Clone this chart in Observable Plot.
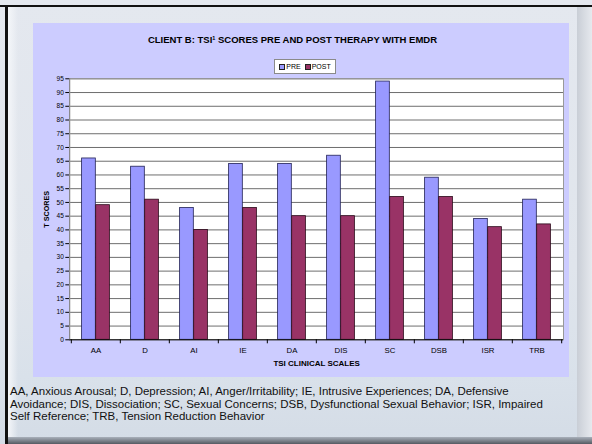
<!DOCTYPE html>
<html><head><meta charset="utf-8">
<script src="https://cdn.jsdelivr.net/npm/d3@7"></script>
<script src="https://cdn.jsdelivr.net/npm/@observablehq/plot@0.6"></script>
<style>
html,body{margin:0;padding:0;}
body{width:592px;height:444px;overflow:hidden;font-family:Arial,"Liberation Sans",sans-serif;position:relative;}
#slide{position:absolute;left:0;top:0;width:592px;height:444px;
  background:linear-gradient(180deg,#e4e8ef 0%,#e0e5ec 60%,#d9e1ea 85%,#d4dce6 100%);}
#topbar{position:absolute;left:0;top:5px;width:592px;height:2px;background:#111;}
#leftbar{position:absolute;left:5px;top:5px;width:3px;height:439px;background:#111;}
#leftglow{position:absolute;left:8px;top:7px;width:10px;height:437px;background:linear-gradient(90deg,#f4f6f9,rgba(244,246,249,0));}
#rightbar{position:absolute;left:577px;top:7px;width:15px;height:437px;background:linear-gradient(90deg,#c9ced6,#e6e9ee);}
#bottombar{position:absolute;left:8px;top:437px;width:584px;height:7px;background:linear-gradient(180deg,#a9b0ba,#555a62);}
#panel{position:absolute;left:33px;top:23px;width:536px;height:354px;background:#ccccff;}
#title{position:absolute;left:-8.5px;top:10.5px;width:536px;text-align:center;font-weight:bold;font-size:9.5px;color:#000;white-space:nowrap;}
#title sup{font-size:5.5px;vertical-align:3.5px;}
#legend{position:absolute;left:241px;top:36px;width:62px;height:15px;border:1px solid #8a8a8a;background:#fff;display:flex;align-items:center;justify-content:center;font-size:7px;white-space:nowrap;box-sizing:border-box;}
#legend .item{display:flex;align-items:center;margin-right:4px;}
#legend .item:last-child{margin-right:0;}
#legend .sw{width:4px;height:4px;border:1px solid #222;margin-right:1px;}
#chart{position:absolute;left:0;top:47px;}
#caption{position:absolute;left:10px;top:385px;font-size:11.5px;line-height:12.7px;color:#111;white-space:nowrap;}
#chart svg g[aria-label="x-axis label"] text{font-weight:bold;font-size:8px;}
#chart svg g[aria-label="y-axis label"] text{font-weight:bold;font-size:7.2px;}
#chart svg g[aria-label="x-axis tick label"] text{font-size:7.8px;}
#chart svg g[aria-label="y-axis tick label"] text{font-size:6.5px;}
</style></head><body>
<div id="slide">
  <div id="leftglow"></div>
  <div id="rightbar"></div>
  <div id="bottombar"></div>
  <div id="topbar"></div>
  <div id="leftbar"></div>
  <div id="panel">
    <div id="title"></div>
    <div id="legend"></div>
    <div id="chart"></div>
  </div>
  <div id="caption"></div>
</div>
<script>
const titleText = "CLIENT B: TSI";
const titleSup = "1";
const titleRest = " SCORES PRE AND POST THERAPY WITH EMDR";
const categories = ["AA","D","AI","IE","DA","DIS","SC","DSB","ISR","TRB"];
const preScores  = [66, 63, 48, 64, 64, 67, 94, 59, 44, 51];
const postScores = [49, 51, 40, 48, 45, 45, 52, 52, 41, 42];
const seriesNames = ["PRE","POST"];
const seriesColors = ["#9999ff","#993366"];
const yTicks = [0,5,10,15,20,25,30,35,40,45,50,55,60,65,70,75,80,85,90,95];
const xTitle = "TSI CLINICAL SCALES";
const yTitle = "T SCORES";
const captionLines = [
  "AA, Anxious Arousal; D, Depression; AI, Anger/Irritability; IE, Intrusive Experiences; DA, Defensive",
  "Avoidance; DIS, Dissociation; SC, Sexual Concerns; DSB, Dysfunctional Sexual Behavior; ISR, Impaired",
  "Self Reference; TRB, Tension Reduction Behavior"
];

// title
const t = document.getElementById("title");
t.append(titleText);
const sup = document.createElement("sup"); sup.textContent = titleSup; t.append(sup);
t.append(titleRest);

// legend
const lg = document.getElementById("legend");
seriesNames.forEach((n,i)=>{
  const it = document.createElement("span"); it.className="item";
  const sw = document.createElement("span"); sw.className="sw"; sw.style.background = seriesColors[i];
  it.append(sw, n); lg.append(it);
});

// caption
const cap = document.getElementById("caption");
captionLines.forEach(l=>{ const d=document.createElement("div"); d.textContent=l; cap.append(d); });

// data table
const rows = categories.flatMap((c,i)=>[
  {scale:c, series:seriesNames[0], value:preScores[i]},
  {scale:c, series:seriesNames[1], value:postScores[i]}
]);

const W = 536, H = 307;
const mL = 36.3, mR = 6, mT = 8.3, mB = 37.7;
const step = (W - mL - mR) / categories.length;
const barW = step * 0.285;

const chart = Plot.plot({
  width: W, height: H,
  marginLeft: mL, marginRight: mR, marginTop: mT, marginBottom: mB,
  style: {background:"transparent", fontFamily:"Arial, 'Liberation Sans', sans-serif", fontSize:"7px", color:"#000", overflow:"visible"},
  x: {domain: categories, padding: 0, tickSize: 0, tickPadding: 8, label: xTitle, labelAnchor: "center", labelOffset: 26, labelArrow: "none"},
  y: {domain: [0,95], ticks: yTicks, tickSize: 4, tickPadding: 2, label: yTitle, labelAnchor: "center", labelOffset: 26, labelArrow: "none", line: true},
  color: {domain: seriesNames, range: seriesColors},
  marks: [
    Plot.frame({fill:"white", stroke:"none"}),
    Plot.ruleY(yTicks.filter(v=>v>0), {stroke:"#6e6e6e", strokeWidth:1}),
    Plot.frame({stroke:"#9a9a9a", strokeWidth:1}),
    Plot.barY(rows.filter(d=>d.series===seriesNames[0]), {x:"scale", y:"value", fill:"series", stroke:"#222255", strokeWidth:0.8, insetLeft: step/2 - barW, insetRight: step/2}),
    Plot.barY(rows.filter(d=>d.series===seriesNames[1]), {x:"scale", y:"value", fill:"series", stroke:"#2a0a1a", strokeWidth:0.8, insetLeft: step/2, insetRight: step/2 - barW}),
    Plot.ruleY([0], {stroke:"#000", strokeWidth:1}),
    Plot.ruleX(categories, {x: d=>d, dx: -step/2, y1: 0, y2: 0, insetBottom: -4, stroke:"#000"}),
    Plot.ruleX(categories.slice(-1), {x: d=>d, dx: step/2, y1: 0, y2: 0, insetBottom: -4, stroke:"#000"})
  ]
});
document.getElementById("chart").append(chart);
</script>
</body></html>
